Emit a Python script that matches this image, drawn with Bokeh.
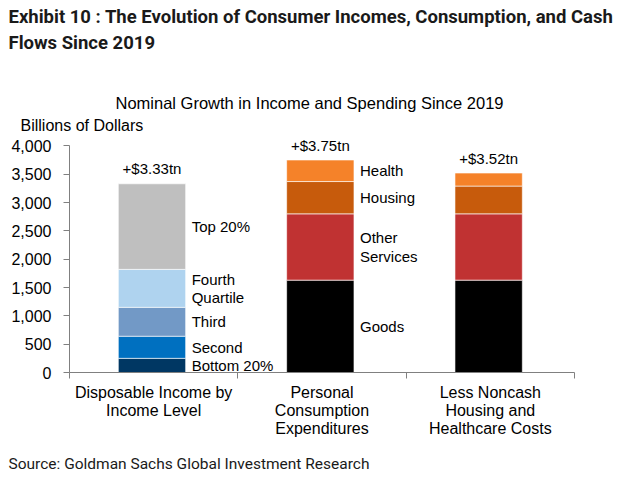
from bokeh.plotting import figure
from bokeh.models import Label, Title, FixedTicker, NumeralTickFormatter, Range1d
from bokeh.embed import file_html
from bokeh.resources import INLINE

# ---- data ----
categories = ["Disposable Income by\nIncome Level",
              "Personal\nConsumption\nExpenditures",
              "Less Noncash\nHousing and\nHealthcare Costs"]
income_segments = ["Bottom 20%", "Second", "Third", "Fourth\nQuartile", "Top 20%"]
income_values = [250, 390, 510, 670, 1510]
income_colors = ["#003763", "#0070c0", "#7299c6", "#afd3ef", "#bfbfbf"]
spend_segments = ["Goods", "Other\nServices", "Housing", "Health"]
pce_values = [1630, 1170, 570, 380]
net_values = [1630, 1170, 490, 230]
spend_colors = ["#000000", "#c03232", "#c75b0c", "#f58229"]
y_ticks = [0, 500, 1000, 1500, 2000, 2500, 3000, 3500, 4000]

FONT = "Liberation Sans"
HEAD = "Roboto"

p = figure(width=620, height=493, output_backend="svg", toolbar_location=None,
           title_location=None,
           x_range=Range1d(0, 3), y_range=Range1d(0, 4200),
           min_border_left=69, min_border_right=46, min_border_top=134,
           min_border_bottom=121)
p.outline_line_color = None
p.xgrid.grid_line_color = None
p.ygrid.grid_line_color = None
p.background_fill_color = "white"
p.border_fill_color = "white"

bar_w = 0.40
stacks = [(income_values, income_colors, income_segments),
          (pce_values, spend_colors, spend_segments),
          (net_values, spend_colors, None)]
for i, (vals, cols, names) in enumerate(stacks):
    xc = i + 0.49
    bottom = 0
    for j, v in enumerate(vals):
        p.vbar(x=[xc], width=bar_w, bottom=[bottom], top=[bottom + v],
               fill_color=cols[j], line_color="white", line_width=0.6)
        if names is not None:
            p.add_layout(Label(x=xc + bar_w / 2, y=bottom + v / 2, x_offset=6,
                               text=names[j], text_font=FONT, text_font_size="15px",
                               text_color="#000000", text_align="left",
                               text_baseline="middle", text_line_height=1.1))
        bottom += v
    total = sum(vals)
    p.add_layout(Label(x=xc, y=total, y_offset=15, text=f"+${total/1000:.2f}tn",
                       text_font=FONT, text_font_size="15px", text_color="#000000",
                       text_align="center", text_baseline="alphabetic"))

# axes
yax = p.yaxis[0]
yax.ticker = FixedTicker(ticks=y_ticks)
yax.bounds = (0, 4000)
yax.formatter = NumeralTickFormatter(format="0,0")
yax.axis_line_color = "#808080"
yax.major_tick_line_color = "#808080"
yax.major_tick_out = 6
yax.major_tick_in = 0
yax.minor_tick_line_color = None
yax.major_label_text_font = FONT
yax.major_label_text_font_size = "16px"
yax.major_label_text_color = "#000000"
yax.major_label_standoff = 12

xax = p.xaxis[0]
xax.ticker = FixedTicker(ticks=[0.5, 1.5, 2.5], minor_ticks=[0, 1, 2, 3])
xax.major_label_overrides = {0.5: categories[0], 1.5: categories[1], 2.5: categories[2]}
xax.axis_line_color = "#808080"
xax.major_tick_line_color = None
xax.minor_tick_line_color = "#808080"
xax.minor_tick_out = 6
xax.minor_tick_in = 0
xax.major_label_text_font = FONT
xax.major_label_text_font_size = "16px"
xax.major_label_text_line_height = 1.08
xax.major_label_text_color = "#000000"
xax.major_label_standoff = 5

# titles stacked above the frame (first added = nearest the frame)
p.add_layout(Title(text="Billions of Dollars", align="left", offset=-49,
                   text_font=FONT, text_font_size="16px", text_font_style="normal",
                   text_color="#000000", standoff=2), "above")
p.add_layout(Title(text="Nominal Growth in Income and Spending Since 2019",
                   align="left", offset=46, text_font=FONT,
                   text_font_size="16.5px", text_font_style="normal",
                   text_color="#000000", standoff=4), "above")
# blank spacer between subtitle and headline
p.add_layout(Title(text=" ", text_font_size="1px", standoff=31), "above")
p.add_layout(Title(text="Exhibit 10 : The Evolution of Consumer Incomes, Consumption, and Cash\nFlows Since 2019",
                   align="left", offset=-61, text_font=HEAD,
                   text_font_size="18.5px", text_font_style="bold",
                   text_line_height=1.22, text_color="#1a1a1a", standoff=2), "above")
p.add_layout(Title(text="Source: Goldman Sachs Global Investment Research",
                   align="left", offset=-61, text_font=HEAD,
                   text_font_size="15.5px", text_font_style="normal",
                   text_color="#1a1a1a", standoff=24), "below")

open("out.html", "w").write(file_html(p, INLINE))
